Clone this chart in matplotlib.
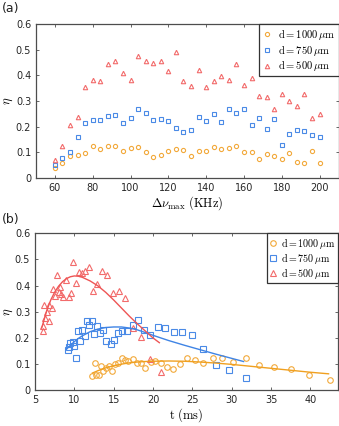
import matplotlib
matplotlib.use("Agg")
import matplotlib.pyplot as plt

plt.rcParams['mathtext.fontset'] = 'cm'
plt.rcParams['font.family'] = ['DejaVu Sans']

# ---------- Panel (a) data ----------
dnu = [60, 64, 68, 72, 76, 80, 84, 88, 92, 96, 100, 104, 108, 112, 116, 120, 124, 128,
       132, 136, 140, 144, 148, 152, 156, 160, 164, 168, 172, 176, 180, 184, 188, 192, 196, 200]
a_d1000 = [0.038, 0.060, 0.084, 0.090, 0.096, 0.123, 0.113, 0.123, 0.126, 0.107, 0.117, 0.122,
           0.100, 0.081, 0.090, 0.107, 0.113, 0.110, 0.085, 0.107, 0.107, 0.119, 0.113, 0.118,
           0.124, 0.102, 0.100, 0.075, 0.094, 0.086, 0.075, 0.096, 0.062, 0.058, 0.104, 0.059]
a_d750 = [0.051, 0.077, 0.101, 0.159, 0.215, 0.227, 0.227, 0.240, 0.245, 0.216, 0.233, 0.270,
          0.253, 0.227, 0.231, 0.221, 0.195, 0.179, 0.187, 0.237, 0.223, 0.248, 0.220, 0.269,
          0.255, 0.267, 0.207, 0.233, 0.191, 0.228, 0.128, 0.172, 0.186, 0.183, 0.168, 0.160]
a_d500 = [0.069, 0.124, 0.206, 0.236, 0.355, 0.383, 0.376, 0.443, 0.457, 0.409, 0.383, 0.476,
          0.457, 0.448, 0.457, 0.415, 0.491, 0.376, 0.359, 0.422, 0.356, 0.376, 0.396, 0.383,
          0.444, 0.364, 0.390, 0.318, 0.317, 0.267, 0.329, 0.301, 0.282, 0.329, 0.232, 0.250]

# ---------- Panel (b) data ----------
t_d1000 = [12.3, 12.6, 12.8, 13.1, 13.4, 13.7, 14.0, 14.4, 14.8, 15.2, 15.6, 16.0, 16.4, 16.8,
           17.4, 17.9, 18.5, 19.0, 19.7, 20.3, 21.0, 21.8, 22.5, 23.4, 24.3, 25.3, 26.4, 27.6,
           28.8, 30.1, 31.8, 33.4, 35.4, 37.5, 39.8, 42.5]
b_d1000 = [0.055, 0.104, 0.058, 0.060, 0.091, 0.074, 0.087, 0.091, 0.074, 0.100, 0.104, 0.124,
           0.117, 0.113, 0.119, 0.106, 0.106, 0.086, 0.109, 0.113, 0.106, 0.090, 0.081, 0.100,
           0.122, 0.117, 0.105, 0.122, 0.122, 0.108, 0.122, 0.096, 0.090, 0.082, 0.059, 0.039]
t_d750 = [9.15, 9.36, 9.5, 9.8, 10.0, 10.2, 10.5, 10.7, 11.0, 11.3, 11.6, 11.9, 12.2, 12.5,
          12.9, 13.3, 13.7, 14.0, 14.6, 15.0, 15.6, 16.1, 16.7, 17.4, 18.1, 18.8, 19.6, 20.6,
          21.5, 22.6, 23.7, 25.0, 26.4, 28.0, 29.7, 31.8]
b_d750 = [0.155, 0.164, 0.181, 0.183, 0.168, 0.123, 0.225, 0.190, 0.229, 0.206, 0.263, 0.249,
          0.263, 0.215, 0.244, 0.219, 0.229, 0.187, 0.176, 0.191, 0.219, 0.228, 0.225, 0.248,
          0.267, 0.232, 0.213, 0.242, 0.237, 0.224, 0.224, 0.212, 0.156, 0.098, 0.076, 0.048]
t_d500 = [5.97, 6.05, 6.14, 6.31, 6.48, 6.74, 6.82, 7.16, 7.33, 7.58, 7.75, 8.09, 8.17, 8.34,
          8.60, 8.94, 9.27, 9.53, 9.87, 10.21, 10.55, 10.97, 11.39, 11.90, 12.33, 12.92, 13.51,
          14.11, 14.87, 15.63, 16.48, 17.4, 18.47, 19.6, 20.97]
b_d500 = [0.247, 0.228, 0.326, 0.278, 0.298, 0.326, 0.265, 0.316, 0.387, 0.362, 0.441, 0.374,
          0.395, 0.367, 0.357, 0.420, 0.357, 0.372, 0.489, 0.411, 0.453, 0.447, 0.456, 0.473,
          0.381, 0.405, 0.456, 0.441, 0.373, 0.380, 0.354, 0.238, 0.204, 0.121, 0.069]

# fit curves
fit1000_t = [12.3, 13, 14, 15, 16, 17, 18, 19, 20, 22, 24, 26, 28, 30, 32, 34, 36, 38, 40, 42.3]
fit1000_y = [0.066, 0.075, 0.086, 0.094, 0.100, 0.105, 0.108, 0.110, 0.111, 0.112, 0.111, 0.108,
             0.104, 0.099, 0.093, 0.087, 0.081, 0.075, 0.069, 0.063]
fit750_t = [9.0, 9.5, 10, 10.5, 11, 12, 13, 14, 15, 16, 17, 18, 19, 20, 22, 24, 26, 28, 30, 31.5]
fit750_y = [0.157, 0.172, 0.186, 0.198, 0.208, 0.224, 0.234, 0.240, 0.242, 0.242, 0.238, 0.231,
            0.221, 0.210, 0.190, 0.172, 0.155, 0.138, 0.122, 0.110]
fit500_t = [5.85, 6.5, 7.0, 7.5, 8.0, 8.5, 9.0, 9.5, 10.0, 10.5, 11.0, 12.0, 13.0, 14.0, 15.0,
            16.0, 17.0, 18.0, 19.0, 20.0, 20.8]
fit500_y = [0.238, 0.305, 0.345, 0.375, 0.398, 0.415, 0.427, 0.434, 0.437, 0.436, 0.432, 0.418,
            0.399, 0.374, 0.345, 0.314, 0.283, 0.254, 0.227, 0.200, 0.182]

labels = [r'$\mathrm{d}=1000\,\mu\mathrm{m}$', r'$\mathrm{d}=750\,\mu\mathrm{m}$',
          r'$\mathrm{d}=500\,\mu\mathrm{m}$']
c_or = '#F2A93B'
c_bl = '#4A8AE6'
c_rd = '#F26B6B'
l_or = '#F0A020'
l_bl = '#3F84E5'
l_rd = '#EE5555'
spine_c = '#4D4D4D'

fig = plt.figure(figsize=(3.39, 4.26), dpi=100)
axa = fig.add_axes([36 / 339, 1 - 178 / 426, 302.5 / 339, 154 / 426])
axb = fig.add_axes([35 / 339, 1 - 390.3 / 426, 303 / 339, 157 / 426])


def style(ax, left_px):
    for s in ax.spines.values():
        s.set_color(spine_c)
        s.set_linewidth(0.9)
    ax.tick_params(direction='in', length=2.5, width=0.6, color=spine_c,
                   labelsize=7, labelcolor='#262626', top=True, right=True, pad=3.5)
    ax.set_ylim(0, 0.6)
    ax.set_yticks([0, 0.1, 0.2, 0.3, 0.4, 0.5, 0.6])
    ax.set_yticklabels(['0', '0.1', '0.2', '0.3', '0.4', '0.5', '0.6'])
    ax.set_ylabel(r'$\eta$', fontsize=9)
    ax.yaxis.set_label_coords((15 - left_px) / 303.0, 0.5)


mk = dict(linestyle='none', markerfacecolor='none', markeredgewidth=0.8)
axa.plot(dnu, a_d1000, marker='o', color=c_or, markersize=3, label=labels[0], **mk)
axa.plot(dnu, a_d750, marker='s', color=c_bl, markersize=3.2, label=labels[1], **mk)
axa.plot(dnu, a_d500, marker='^', color=c_rd, markersize=3.2, label=labels[2], **mk)
style(axa, 36)
axa.set_xlim(50, 210)
axa.set_xticks([60, 80, 100, 120, 140, 160, 180, 200])
axa.set_xlabel(r'$\Delta\nu_{\max}\ (\mathrm{KHz})$', fontsize=9, labelpad=1)
lg = axa.legend(loc='upper right', bbox_to_anchor=(1.0, 1.0), borderaxespad=0, fontsize=7.6,
                fancybox=False, edgecolor='#333333', framealpha=1, handlelength=1.0,
                handletextpad=0.5, borderpad=0.3, labelspacing=0.05)
lg.get_frame().set_linewidth(0.9)

axb.plot(t_d1000, b_d1000, marker='o', color=c_or, markersize=4, label=labels[0], **mk)
axb.plot(t_d750, b_d750, marker='s', color=c_bl, markersize=4, label=labels[1], **mk)
axb.plot(t_d500, b_d500, marker='^', color=c_rd, markersize=4, label=labels[2], **mk)
axb.plot(fit1000_t, fit1000_y, color=l_or, linewidth=1.0)
axb.plot(fit750_t, fit750_y, color=l_bl, linewidth=1.0)
axb.plot(fit500_t, fit500_y, color=l_rd, linewidth=1.0)
style(axb, 35)
axb.set_xlim(5, 43.5)
axb.set_xticks([5, 10, 15, 20, 25, 30, 35, 40])
axb.set_xlabel(r'$\mathrm{t\ (ms)}$', fontsize=9, labelpad=1)
lg2 = axb.legend(loc='upper right', bbox_to_anchor=(1.0, 1.0), borderaxespad=0, fontsize=7.2,
                 fancybox=False, edgecolor='#333333', framealpha=1, handlelength=0.8,
                 handletextpad=0.4, borderpad=0.25, labelspacing=0.0)
lg2.get_frame().set_linewidth(0.9)

fig.text(2 / 339, 1 - 2 / 426, '(a)', fontsize=9, va='top', ha='left', color='#222222')
fig.text(2 / 339, 1 - 213 / 426, '(b)', fontsize=9, va='top', ha='left', color='#222222')

fig.savefig('out.png', dpi=100)
